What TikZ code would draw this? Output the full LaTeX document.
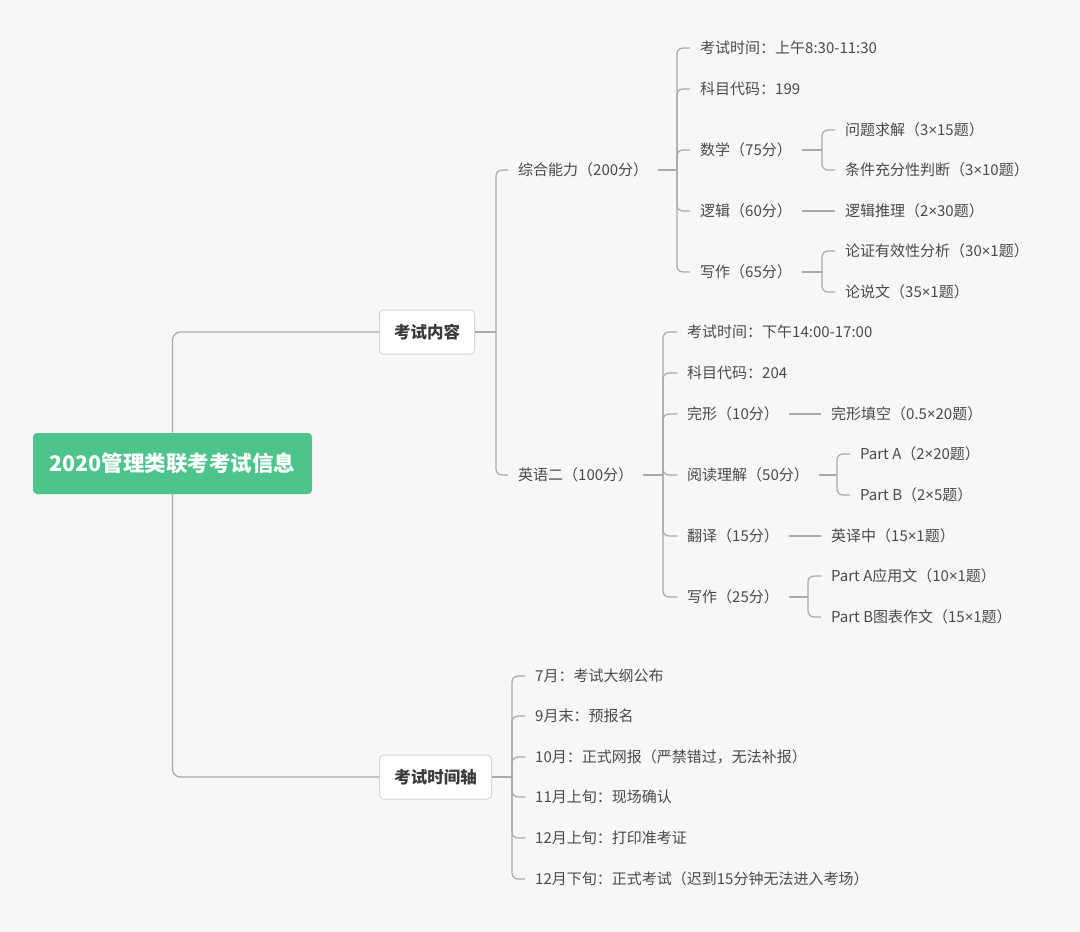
\documentclass[tikz,border=0pt]{standalone}
\usepackage{fontspec}
\setmainfont{Noto Sans CJK SC}
\newfontfamily\latinfont{Noto Sans}
\newcommand\tms{{\latinfont ×}}
\definecolor{pagebg}{HTML}{F7F7F7}
\definecolor{mapline}{HTML}{A9A9A9}
\definecolor{maptext}{HTML}{4A4A4A}
\definecolor{rootgreen}{HTML}{4DC48B}
\definecolor{boxline}{HTML}{D6D6D6}

\begin{document}
\begin{tikzpicture}[x=1pt, y=-1pt,
  link/.style={draw=mapline, line width=1.2pt, rounded corners=6pt},
  leaf/.style={anchor=west, inner xsep=10pt, inner ysep=0pt, text=maptext,
    font=\fontsize{15}{18}\selectfont, text height=13.2pt, text depth=1.8pt},
  topic/.style={anchor=west, draw=boxline, fill=white, rounded corners=4pt,
    line width=1pt, minimum height=44pt, text=maptext!80!black,
    font=\fontsize{16.5}{20}\selectfont\bfseries, text height=14.5pt, text depth=2pt},
  rootbox/.style={fill=rootgreen, rounded corners=4pt, minimum width=279pt,
    minimum height=61pt, text=white, font=\fontsize{21.5}{25}\selectfont\bfseries,
    text height=19pt, text depth=2.6pt}]

  % Page
  \fill[pagebg] (0,0) rectangle (1080,932);
  \useasboundingbox (0,0) rectangle (1080,932);

  % Root and main topics
  \node[rootbox] (root) at (172.5,463.5) {2020管理类联考考试信息};
  \node[topic, minimum width=95pt] (nr) at (379,332) {考试内容};
  \node[topic, minimum width=112pt] (sj) at (379,777) {考试时间轴};
  \draw[link, rounded corners=8pt] (root.north) |- (nr.west);
  \draw[link, rounded corners=8pt] (root.south) |- (sj.west);

  % Exam content: two subjects
  \node[leaf] (zh) at (508,170) {综合能力（200分）};
  \node[leaf] (yy) at (508,475) {英语二（100分）};
  \coordinate (jnr) at (496,332);
  \draw[link] (nr.east) -- (jnr);
  \draw[link] (jnr) |- (zh.west);
  \draw[link] (jnr) |- (yy.west);

  % Subject 199
  \coordinate (jzh) at (677,170);
  \draw[link] (zh.east) -- (jzh);
  \foreach \n/\y/\t in {zh1/48/{考试时间：上午8:30-11:30}, zh2/89/{科目代码：199},
      zh3/150/{数学（75分）}, zh4/211/{逻辑（60分）}, zh5/272/{写作（65分）}} {
    \node[leaf] (\n) at (690,\y) {\t};
    \draw[link] (jzh) |- (\n.west);
  }

  \coordinate (jsx) at (822,150);
  \draw[link] (zh3.east) -- (jsx);
  \foreach \n/\y/\t in {sx1/130/{问题求解（3\tms15题）}, sx2/170/{条件充分性判断（3\tms10题）}} {
    \node[leaf] (\n) at (835,\y) {\t};
    \draw[link] (jsx) |- (\n.west);
  }

  \node[leaf] (lj1) at (835,211) {逻辑推理（2\tms30题）};
  \draw[link] (zh4.east) -- (lj1.west);

  \coordinate (jxz) at (822,272);
  \draw[link] (zh5.east) -- (jxz);
  \foreach \n/\y/\t in {xz1/251/{论证有效性分析（30\tms1题）}, xz2/292/{论说文（35\tms1题）}} {
    \node[leaf] (\n) at (835,\y) {\t};
    \draw[link] (jxz) |- (\n.west);
  }

  % Subject 204
  \coordinate (jyy) at (663,475);
  \draw[link] (yy.east) -- (jyy);
  \foreach \n/\y/\t in {yy1/332/{考试时间：下午14:00-17:00}, yy2/373/{科目代码：204},
      yy3/414/{完形（10分）}, yy4/475/{阅读理解（50分）}, yy5/536/{翻译（15分）},
      yy6/597/{写作（25分）}} {
    \node[leaf] (\n) at (677,\y) {\t};
    \draw[link] (jyy) |- (\n.west);
  }

  \node[leaf] (wx1) at (821,414) {完形填空（0.5\tms20题）};
  \draw[link] (yy3.east) -- (wx1.west);

  \coordinate (jyd) at (837,475);
  \draw[link] (yy4.east) -- (jyd);
  \foreach \n/\y/\t in {yd1/454/{Part A（2\tms20题）}, yd2/495/{Part B（2\tms5题）}} {
    \node[leaf] (\n) at (850,\y) {\t};
    \draw[link] (jyd) |- (\n.west);
  }

  \node[leaf] (fy1) at (821,536) {英译中（15\tms1题）};
  \draw[link] (yy5.east) -- (fy1.west);

  \coordinate (jyx) at (808,597);
  \draw[link] (yy6.east) -- (jyx);
  \foreach \n/\y/\t in {yx1/576/{Part A应用文（10\tms1题）}, yx2/617/{Part B图表作文（15\tms1题）}} {
    \node[leaf] (\n) at (821,\y) {\t};
    \draw[link] (jyx) |- (\n.west);
  }

  % Timeline
  \coordinate (jsj) at (512,777);
  \draw[link] (sj.east) -- (jsj);
  \foreach \n/\y/\t in {t1/676/{7月：考试大纲公布}, t2/716/{9月末：预报名},
      t3/757/{10月：正式网报（严禁错过，无法补报）}, t4/797/{11月上旬：现场确认},
      t5/838/{12月上旬：打印准考证}, t6/879/{12月下旬：正式考试（迟到15分钟无法进入考场）}} {
    \node[leaf] (\n) at (525,\y) {\t};
    \draw[link] (jsj) |- (\n.west);
  }
\end{tikzpicture}
\end{document}
